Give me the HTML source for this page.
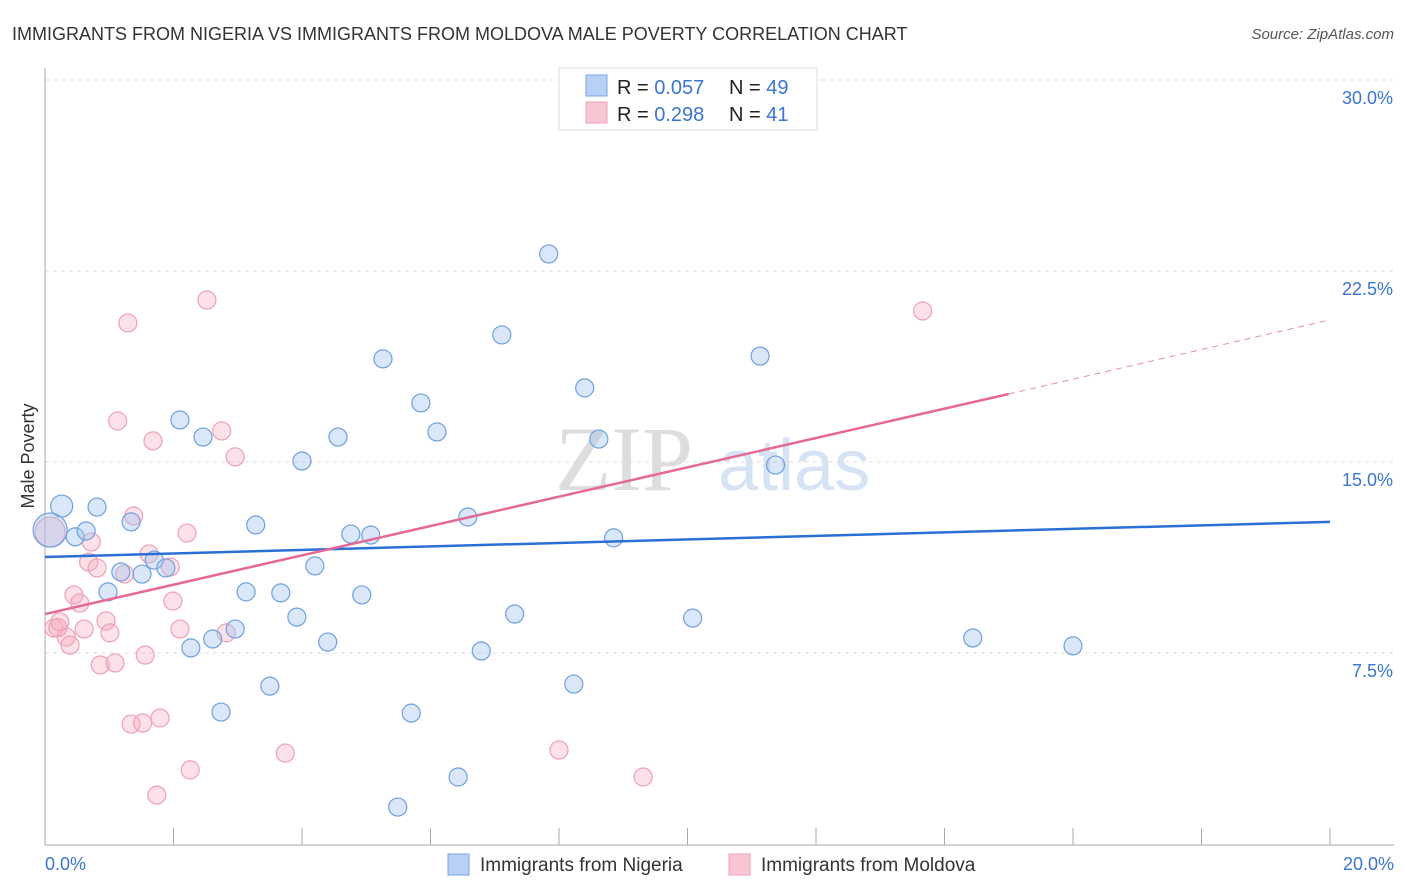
<!DOCTYPE html>
<html><head><meta charset="utf-8">
<style>
body{margin:0;background:#fff;font-family:"Liberation Sans",sans-serif;}
#wrap{position:relative;width:1406px;height:892px;overflow:hidden;}
</style></head>
<body>
<div id="wrap">
<svg id="svg" width="1406" height="892" xmlns="http://www.w3.org/2000/svg">
<text x="12" y="40" font-size="18" fill="#333">IMMIGRANTS FROM NIGERIA VS IMMIGRANTS FROM MOLDOVA MALE POVERTY CORRELATION CHART</text>
<text x="1394" y="39" font-size="15" fill="#555" font-style="italic" text-anchor="end">Source: ZipAtlas.com</text>
<text x="34" y="456" font-size="18" fill="#333" text-anchor="middle" transform="rotate(-90 34 456)">Male Poverty</text>
<g>
<text x="555" y="490" font-size="92" fill="#ddd" font-family="Liberation Serif,serif">ZIP</text>
<text x="718" y="490" font-size="72" fill="#d5e3f5">atlas</text>
</g>
<g id="grid"></g>
<g id="pts"></g>
<g id="lines"></g>
<g>
<rect x="559" y="68" width="258" height="62" fill="#fff" stroke="#ddd"/>
<rect x="586" y="75" width="21" height="21" fill="#b7d0f3" stroke="#7aa6e6"/>
<rect x="586" y="102" width="21" height="21" fill="#f8c6d3" stroke="#eea3b8"/>
<text x="617" y="94" font-size="20" fill="#222">R = <tspan fill="#3a75d0">0.057</tspan></text>
<text x="729" y="94" font-size="20" fill="#222">N = <tspan fill="#3a75d0">49</tspan></text>
<text x="617" y="121" font-size="20" fill="#222">R =  <tspan fill="#3a75d0">0.298</tspan></text>
<text x="729" y="121" font-size="20" fill="#222">N =  <tspan fill="#3a75d0">41</tspan></text>
</g>
<g>
<rect x="448" y="854" width="21" height="21" fill="#b7d0f3" stroke="#7aa6e6"/>
<text x="480" y="871" font-size="19" fill="#333">Immigrants from Nigeria</text>
<rect x="729" y="854" width="21" height="21" fill="#f8c6d3" stroke="#eea3b8"/>
<text x="761" y="871" font-size="19" fill="#333">Immigrants from Moldova</text>
</g>
</svg>
</div>
<script>
const yTicks=[7.5,15,22.5,30];
const yTickLabels=["7.5%","15.0%","22.5%","30.0%"];
const xTicks=[0,2,4,6,8,10,12,14,16,18,20];
const nigeriaX=[0.08,0.26,0.47,0.64,0.81,0.98,1.18,1.34,1.51,1.70,1.88,2.10,2.27,2.46,2.61,2.74,2.96,3.13,3.28,3.50,3.67,3.92,4.00,4.20,4.40,4.56,4.76,4.93,5.07,5.26,5.49,5.70,5.85,6.10,6.43,6.58,6.79,7.11,7.31,7.84,8.23,8.40,8.62,8.85,10.08,11.13,11.37,14.44,16.00];
const nigeriaY=[12.33,13.27,12.06,12.29,13.23,9.90,10.68,12.65,10.60,11.15,10.84,16.65,7.70,15.98,8.05,5.18,8.44,9.90,12.53,6.20,9.86,8.91,15.04,10.92,7.93,15.98,12.17,9.78,12.13,19.05,1.45,5.14,17.32,16.18,2.63,12.84,7.58,19.99,9.03,23.17,6.28,17.91,15.90,12.02,8.87,19.16,14.88,8.09,7.78];
const moldovaX=[0.08,0.14,0.23,0.33,0.39,0.45,0.54,0.61,0.68,0.72,0.81,0.86,0.95,1.01,1.09,1.13,1.24,1.29,1.34,1.38,1.52,1.56,1.62,1.68,1.74,1.79,1.95,1.99,2.10,2.21,2.26,2.52,2.75,2.82,2.96,3.74,8.00,9.31,9.90,13.66,0.20];
const moldovaY=[12.25,8.48,8.72,8.13,7.81,9.78,9.46,8.44,11.07,11.86,10.84,7.03,8.76,8.29,7.11,16.61,10.60,20.46,4.71,12.88,4.75,7.42,11.39,15.83,1.92,4.95,10.88,9.54,8.44,12.21,2.91,21.36,16.22,8.29,15.20,3.57,3.69,2.63,28.59,20.93,8.50];
const nigeriaTrend=[[0,11.27],[20,12.65]];
const moldovaTrend=[[0,9.03],[15.0,17.67],[20,20.58]];
const NS="http://www.w3.org/2000/svg";
const X=v=>45+v/20*1285, Y=v=>844-v/7.5*191;
function mk(tag,attrs,parent){const e=document.createElementNS(NS,tag);for(const k in attrs)e.setAttribute(k,attrs[k]);parent.appendChild(e);return e;}
const grid=document.getElementById('grid');
yTicks.forEach((t,i)=>{
 const l=mk('line',{x1:45,x2:1394,y1:Y(t),y2:Y(t),stroke:'#ddd','stroke-dasharray':'4,4'},grid);
 
 
 const tx=mk('text',{x:1393,y:Y(t)+24,'font-size':18,fill:'#3a75d0','text-anchor':'end'},grid);
 tx.textContent=yTickLabels[i];
 
 
});
const ax=mk('line',{x1:45,x2:45,y1:68,y2:845,stroke:'#aaa'},grid);


const bx=mk('line',{x1:45,x2:1394,y1:845,y2:845,stroke:'#aaa'},grid);


xTicks.forEach(t=>{
 const l=mk('line',{x1:X(t),x2:X(t),y1:828,y2:845,stroke:'#aaa'},grid);
 
 
});
const xl0=mk('text',{x:45,y:870,'font-size':18,fill:'#3a75d0'},grid);xl0.textContent='0.0%';


const xl1=mk('text',{x:1394,y:870,'font-size':18,fill:'#3a75d0','text-anchor':'end'},grid);xl1.textContent='20.0%';


const pts=document.getElementById('pts');
moldovaX.forEach((x,i)=>{
 const c=mk('circle',{cx:X(x),cy:Y(moldovaY[i]),r:i===0?15:9,fill:'rgba(246,170,192,0.35)',stroke:'#eea0b6','stroke-width':1.2},pts);
 
 
});
nigeriaX.forEach((x,i)=>{
 const c=mk('circle',{cx:X(x),cy:Y(nigeriaY[i]),r:i===0?17:(i===1?11:9),fill:'rgba(160,195,240,0.4)',stroke:'#6f9fe0','stroke-width':1.2},pts);
 
 
});
const lines=document.getElementById('lines');
const bl=mk('line',{x1:X(nigeriaTrend[0][0]),y1:Y(nigeriaTrend[0][1]),x2:X(nigeriaTrend[1][0]),y2:Y(nigeriaTrend[1][1]),stroke:'#2a6fd6','stroke-width':2.5},lines);


const pl=mk('line',{x1:X(moldovaTrend[0][0]),y1:Y(moldovaTrend[0][1]),x2:X(moldovaTrend[1][0]),y2:Y(moldovaTrend[1][1]),stroke:'#e56a93','stroke-width':2.5},lines);


const pd=mk('line',{x1:X(moldovaTrend[1][0]),y1:Y(moldovaTrend[1][1]),x2:X(moldovaTrend[2][0]),y2:Y(moldovaTrend[2][1]),stroke:'#e98aa8','stroke-width':1,'stroke-dasharray':'6,5'},lines);


</script>
</body></html>
